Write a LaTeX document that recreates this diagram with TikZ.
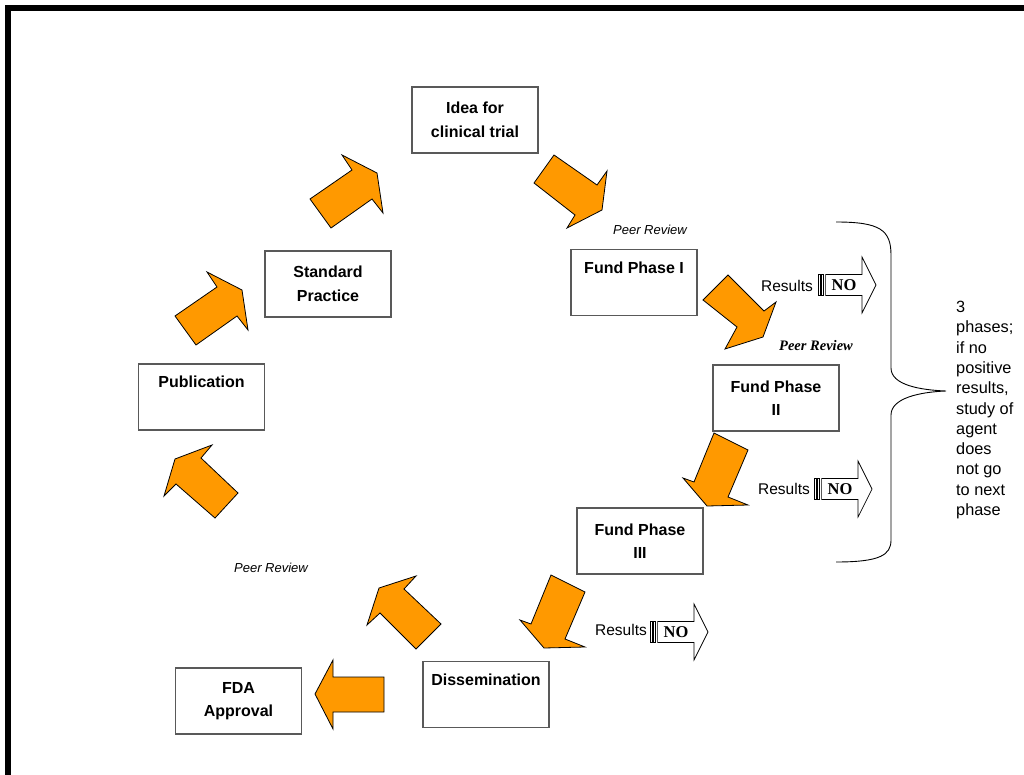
\documentclass[tikz,border=0pt]{standalone}
\usepackage{fontspec}
\setmainfont{Liberation Sans}
\newfontfamily\serifno{Liberation Serif}
\begin{document}
\begin{tikzpicture}[x=1pt,y=-1pt,
  box/.style={draw=black!65, line width=1.1pt, fill=white, minimum width=126pt, minimum height=66pt,
     inner sep=0pt, outer sep=0pt, align=center, font=\fontsize{16}{23.5}\selectfont\bfseries},
  noline/.style={draw=black, line width=0.7pt, fill=white},
  notext/.style={font=\serifno\fontsize{16.5}{18}\selectfont\bfseries, inner sep=0pt},
  restext/.style={font=\fontsize{15.5}{18}\selectfont, inner sep=0pt},
  peer/.style={font=\fontsize{13}{15}\selectfont\itshape, inner sep=0pt},
  brace/.style={draw=black, line width=0.9pt}]
\definecolor{arrorange}{RGB}{255,153,0}
\tikzset{blk/.style={fill=arrorange, draw=black, line width=0.8pt, line join=miter}}
\useasboundingbox (0,0) rectangle (1024,775);
% frame
\fill[black] (5,5) rectangle (1024,11);
\fill[black] (5,5) rectangle (11,775);
% boxes
\node[box] (idea) at (475,120) {Idea for\\clinical trial};
\node[box] (fund1) at (634,282.5) {Fund Phase I\\\strut};
\node[box] (fund2) at (776,398) {Fund Phase\\II};
\node[box] (fund3) at (640,541) {Fund Phase\\III};
\node[box] (diss) at (486,694.5) {Dissemination\\\strut};
\node[box] (fda) at (238.5,701) {FDA\\Approval};
\node[box] (pub) at (201.5,397) {Publication\\\strut};
\node[box] (std) at (328,284) {Standard\\Practice};
% orange block arrows
\draw[blk] (310,199) -- (352,170) -- (342,155) -- (377,173) -- (383,213) -- (372,199) -- (331,228) -- cycle;
\draw[blk] (534,183) -- (554,155) -- (597,185) -- (607,171) -- (602,210) -- (567,228) -- (575,215) -- cycle;
\draw[blk] (703,300) -- (728,275) -- (764,311) -- (776,302) -- (763,337) -- (725,349) -- (737,327) -- cycle;
\draw[blk] (714,433) -- (748,450) -- (728,497) -- (748,505) -- (707,506) -- (683,478) -- (694,482) -- cycle;
\draw[blk] (551,575) -- (585,592) -- (565,639) -- (585,647) -- (544,648) -- (520,620) -- (531,624) -- cycle;
\draw[blk] (315,694) -- (333,660) -- (333,677) -- (384,677) -- (384,712) -- (333,712) -- (333,729) -- cycle;
\draw[blk] (379,588) -- (416,576) -- (404,589) -- (441,624) -- (416,649) -- (380,613) -- (367,625) -- cycle;
\draw[blk] (175,459) -- (212,445) -- (201,458) -- (238,493) -- (215,518) -- (176,484) -- (164,496) -- cycle;
\draw[blk] (175,316) -- (217,287) -- (207,272) -- (242,290) -- (248,330) -- (237,316) -- (196,345) -- cycle;
% peer review labels
\node[peer] (pr1) at (650,230) {Peer Review};
\node[font=\serifno\fontsize{14.5}{16}\selectfont\bfseries\itshape, inner sep=0pt] (pr2) at (816,346) {Peer Review};
\node[peer] (pr3) at (271,568) {Peer Review};
% NO arrows
\newcommand\noarrow[3]{%
 \begin{scope}[shift={(#2,#3)}]
  \draw[noline] (0,-10.5) rectangle (2,10.5);
  \draw[noline] (3.8,-10.5) rectangle (5.8,10.5);
  \draw[noline] (7.6,-10.5) -- (44,-10.5) -- (44,-28) -- (58,0) -- (44,28) -- (44,10.5) -- (7.6,10.5) -- cycle;
  \node[notext] (#1) at (26,0.5) {NO};
 \end{scope}}
\noarrow{no1}{818}{285}
\noarrow{no2}{814}{489}
\noarrow{no3}{650}{632}
\node[restext] (res1) at (787,286) {Results};
\node[restext] (res2) at (784,489) {Results};
\node[restext] (res3) at (621,630) {Results};
% brace
\draw[brace] (836,222) .. controls (880,222) and (891,230) .. (891,255) -- (891,368)
  .. controls (891,385) and (920,390) .. (946,391)
  .. controls (920,392) and (891,398) .. (891,415) -- (891,540)
  .. controls (891,555) and (880,562) .. (836,562);
\node[anchor=north west, align=left, inner sep=0pt, font=\fontsize{16.3}{20.3}\selectfont] (note) at (956,301)
  {3\\phases;\\if no\\positive\\results,\\study of\\agent\\does\\not go\\to next\\phase};
\end{tikzpicture}
\end{document}
